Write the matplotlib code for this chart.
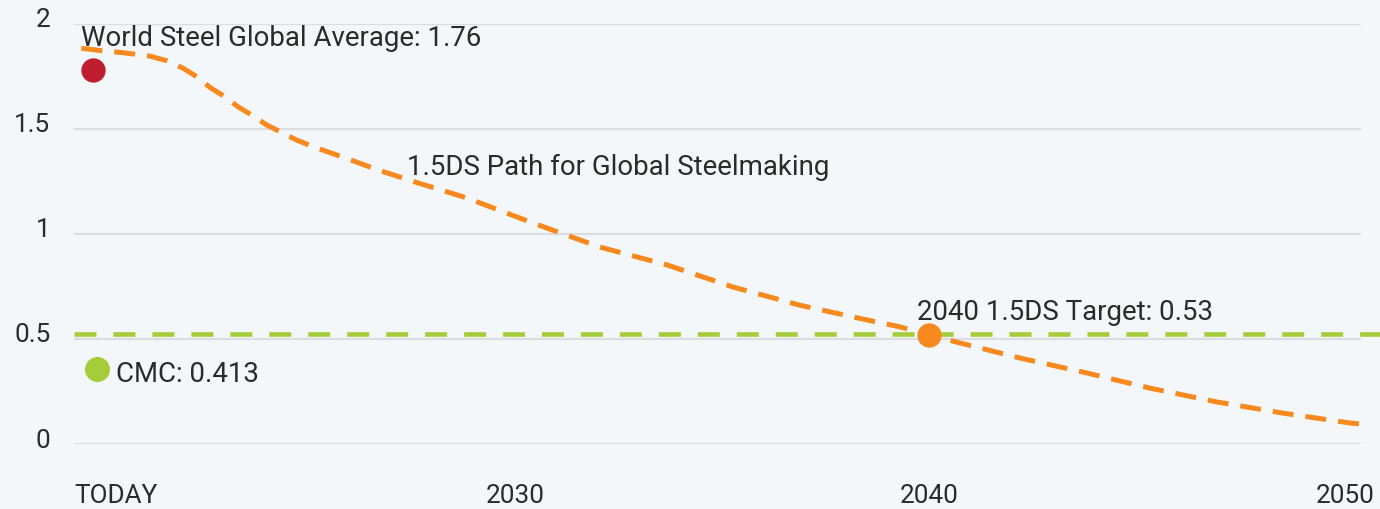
import matplotlib
matplotlib.use("Agg")
import matplotlib.pyplot as plt
from matplotlib.transforms import ScaledTranslation

# ---- data ----
path_years = [2019.43, 2019.92, 2020.44, 2021.09, 2021.50, 2021.90, 2022.23, 2022.55,
              2022.91, 2023.20, 2023.60, 2023.93, 2024.33, 2024.65, 2025.10, 2025.46,
              2025.87, 2026.19, 2026.63, 2027.00, 2027.48, 2028.79, 2030.39, 2032.01,
              2033.64, 2035.24, 2036.87, 2038.50, 2039.30, 2040.00, 2042.21, 2043.83,
              2045.36, 2046.99, 2048.59, 2050.22, 2050.49]
path_values = [1.882, 1.871, 1.861, 1.845, 1.823, 1.787, 1.747, 1.696,
               1.652, 1.608, 1.560, 1.517, 1.478, 1.446, 1.411, 1.386,
               1.358, 1.335, 1.303, 1.280, 1.249, 1.170, 1.051, 0.937,
               0.852, 0.747, 0.660, 0.590, 0.557, 0.518, 0.409, 0.338,
               0.266, 0.200, 0.147, 0.100, 0.095]
cmc_line_value = 0.522
world_point = (2019.70, 1.78)
cmc_point = (2019.80, 0.358)
target_point = (2040.0, 0.518)

x_ticks = [2020.28, 2029.95, 2040, 2050.1]
x_tick_labels = ["TODAY", "2030", "2040", "2050"]
y_ticks = [0, 0.5, 1, 1.5, 2]
y_tick_labels = ["0", "0.5", "1", "1.5", "2"]

labels = {
    "world": ("World Steel Global Average: 1.76", 2019.42, 1.893),
    "cmc": ("CMC: 0.413", 2020.27, 0.295),
    "target": ("2040 1.5DS Target: 0.53", 2039.71, 0.59),
    "path": ("1.5DS Path for Global Steelmaking", 2027.33, 1.279),
}

# ---- style ----
BG = "#f4f7f9"
TXT = "#2b2b2b"
ORANGE = "#f7891f"
GREEN = "#a5cd39"
RED = "#be1e2d"
GRID = "#dcdde0"
FS = 19.9
TFS = 18.8

plt.rcParams["font.family"] = ["Roboto", "DejaVu Sans"]

W, H = 1380, 509
fig = plt.figure(figsize=(W / 100, H / 100), dpi=100, facecolor=BG)
ax = fig.add_axes([74 / W, (H - 444) / H, (1361 - 74) / W, (444 - 23.5) / H])
ax.set_facecolor(BG)
ax.set_xlim(2019.25, 2050.49)
ax.set_ylim(0, 2)

for s in ax.spines.values():
    s.set_visible(False)

ax.set_yticks(y_ticks)
ax.set_yticklabels(y_tick_labels)
ax.set_xticks(x_ticks)
ax.set_xticklabels(x_tick_labels)
ax.tick_params(axis="both", length=0, labelsize=TFS, labelcolor=TXT)
ax.tick_params(axis="y", pad=17)
ax.tick_params(axis="x", pad=29)
for lbl in ax.get_yticklabels():
    lbl.set_transform(lbl.get_transform() + ScaledTranslation(0, 0.06, fig.dpi_scale_trans))

ax.grid(axis="y", color=GRID, linewidth=1.6, zorder=0)
ax.grid(axis="x", visible=False)

# CMC horizontal dashed line
ax.axhline(cmc_line_value, xmin=0, xmax=(1380 - 74) / (1361 - 74), color=GREEN,
           linewidth=3.3, dashes=(4.8, 3.7), clip_on=False, zorder=2)

# Path curve
ax.plot(path_years, path_values, color=ORANGE, linewidth=3.6, dashes=(4.2, 2.4),
        zorder=3, solid_capstyle="butt", dash_capstyle="butt")

# Points
ax.plot(*world_point, "o", color=RED, markersize=17.5, markeredgewidth=0, zorder=4, clip_on=False)
ax.plot(*cmc_point, "o", color=GREEN, markersize=18, markeredgewidth=0, zorder=4, clip_on=False)
ax.plot(*target_point, "o", color=ORANGE, markersize=17.5, markeredgewidth=0, zorder=4)

for key, (txt, x, y) in labels.items():
    ax.text(x, y, txt, fontsize=FS, color=TXT, ha="left", va="baseline", zorder=5)

fig.savefig("out.png", dpi=100, facecolor=BG)
